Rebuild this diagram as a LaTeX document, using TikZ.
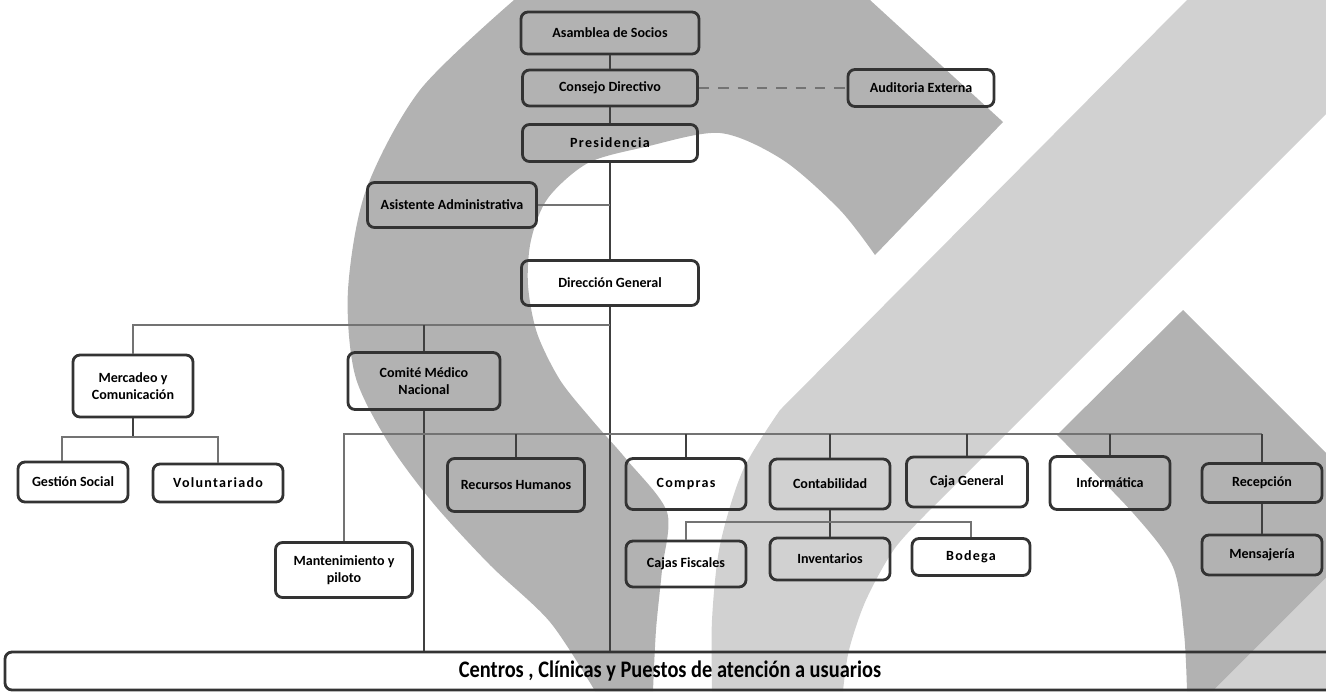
\documentclass[tikz,border=0pt]{standalone}
\usepackage{fontspec}
\setmainfont{Carlito}
\newfontfamily\angosta[FakeStretch=0.86]{Carlito}
\usetikzlibrary{calc}

\begin{document}
\begin{tikzpicture}[x=0.02cm,y=-0.02cm,
		marca/.style={fill=black!30},
		claro/.style={fill=black!18},
		caja/.style={draw=black!80,line width=1.6pt,rounded corners=4pt,align=center,inner sep=1pt,
			font=\fontsize{8}{9.5}\selectfont\bfseries},
		espaciado/.style={font=\fontsize{8}{9.5}\selectfont\bfseries\addfontfeature{LetterSpace=9}},
		linea/.style={draw=black!75,line width=1.1pt},
		bus/.style={draw=black!55,line width=1pt}]
	\useasboundingbox (0,0) rectangle (1326,691);
	\clip (0,0) rectangle (1326,691);
	
	% marca de agua
	\fill[marca] (514,0) -- (870,0) -- (1003,122) -- (875,255)
		-- plot[smooth] coordinates {(875,255) (840,210) (783,160) (720,133) (645,147) (588,163) (548,198) (531,240) (528,285) (537,333) (560,380) (592,420) (627,460) (667,512) (662,570) (656,630) (653,691)}
		-- (595,691)
		-- plot[smooth] coordinates {(595,691) (550,622) (490,565) (433,503) (388,442) (355,375) (348,290) (366,190) (420,90) (514,0)} -- cycle;
	\fill[claro] (1187,0) -- (1326,0) -- (1326,114) -- (933,507)
		-- plot[smooth] coordinates {(933,507) (895,548) (866,600) (849,650) (843,691)}
		-- (712,691)
		-- plot[smooth] coordinates {(712,691) (712,620) (720,545) (743,470) (780,410)} -- cycle;
	\fill[marca] (1183,310) -- (1326,453) -- (1326,578) -- (1213,691) -- (1187,691)
		-- plot[smooth] coordinates {(1187,691) (1184,633) (1173,567) (1133,513) (1057,435)} -- cycle;
	\fill[claro] (1326,578) -- (1326,691) -- (1213,691) -- cycle;
	
	% cajas
	\node[caja,minimum width=178*0.02cm,minimum height=42*0.02cm] (asam) at (610,33) {Asamblea de Socios};
	\node[caja,minimum width=175*0.02cm,minimum height=36*0.02cm] (consejo) at (610,88) {Consejo Directivo};
	\node[caja,minimum width=146*0.02cm,minimum height=37*0.02cm] (audit) at (921,88) {Auditoria Externa};
	\node[caja,espaciado,minimum width=175*0.02cm,minimum height=37*0.02cm] (pres) at (610,143) {Presidencia};
	\node[caja,minimum width=169*0.02cm,minimum height=45*0.02cm] (asist) at (452,205) {Asistente Administrativa};
	\node[caja,minimum width=177*0.02cm,minimum height=45*0.02cm] (dir) at (610,283) {Dirección General};
	\node[caja,minimum width=120*0.02cm,minimum height=62*0.02cm] (merc) at (133,386) {Mercadeo y\\Comunicación};
	\node[caja,minimum width=152*0.02cm,minimum height=57*0.02cm] (comite) at (424,381) {Comité Médico\\Nacional};
	\node[caja,minimum width=110*0.02cm,minimum height=40*0.02cm] (gest) at (73,482) {Gestión Social};
	\node[caja,espaciado,minimum width=130*0.02cm,minimum height=38*0.02cm] (volun) at (218,483) {Voluntariado};
	\node[caja,minimum width=137*0.02cm,minimum height=55*0.02cm] (mant) at (344,570) {Mantenimiento y\\piloto};
	\node[caja,minimum width=137*0.02cm,minimum height=53*0.02cm] (rrhh) at (516,485) {Recursos Humanos};
	\node[caja,espaciado,minimum width=120*0.02cm,minimum height=51*0.02cm] (compras) at (686,484) {Compras};
	\node[caja,minimum width=120*0.02cm,minimum height=50*0.02cm] (conta) at (830,484) {Contabilidad};
	\node[caja,minimum width=121*0.02cm,minimum height=50*0.02cm] (cajag) at (967,482) {Caja General};
	\node[caja,minimum width=120*0.02cm,minimum height=53*0.02cm] (info) at (1110,483) {Informática};
	\node[caja,minimum width=120*0.02cm,minimum height=39*0.02cm] (recep) at (1262,483) {Recepción};
	\node[caja,minimum width=120*0.02cm,minimum height=40*0.02cm] (mensa) at (1262,555) {Mensajería};
	\node[caja,minimum width=120*0.02cm,minimum height=46*0.02cm] (cajasf) at (686,564) {Cajas Fiscales};
	\node[caja,minimum width=120*0.02cm,minimum height=42*0.02cm] (invent) at (830,559) {Inventarios};
	\node[caja,espaciado,minimum width=118*0.02cm,minimum height=37*0.02cm] (bodega) at (971,557) {Bodega};
	\node[caja,minimum width=1330*0.02cm,minimum height=38*0.02cm,font=\angosta\fontsize{13.5}{15}\selectfont\bfseries] (centros) at (670,671) {Centros , Clínicas y Puestos de atención a usuarios};
	
	% buses
	\coordinate (b1) at (610,325);
	\coordinate (b2) at (1262,434);
	\coordinate (b3) at (133,437);
	\coordinate (b4) at (830,522);
	
	% conexiones
	\draw[linea] (asam) -- (consejo);
	\draw[bus,dash pattern=on 6pt off 5pt] (consejo) -- (audit);
	\draw[linea] (consejo) -- (pres);
	\draw[linea] (pres) -- (dir);
	\draw[bus] (asist.east) -- (asist.east -| pres.south);
	\draw[linea] (dir.south) -- (dir.south |- centros.north);
	\draw[bus] (merc.north) |- (b1);
	\draw[linea] (comite.north) -- (comite.north |- b1);
	\draw[linea] (comite.south) -- (comite.south |- centros.north);
	\draw[linea] (merc.south) -- (b3);
	\draw[bus] ([xshift=-11*0.02cm]gest.north) |- (b3) -| (volun.north);
	\draw[bus] (mant.north) |- (b2);
	\foreach \n in {rrhh,compras,conta,cajag,info,recep}
		\draw[linea] (\n.north) -- (\n.north |- b2);
	\draw[linea] (conta) -- (invent);
	\draw[bus] (cajasf.north) |- (b4) -| (bodega.north);
	\draw[linea] (recep) -- (mensa);
\end{tikzpicture}
\end{document}
